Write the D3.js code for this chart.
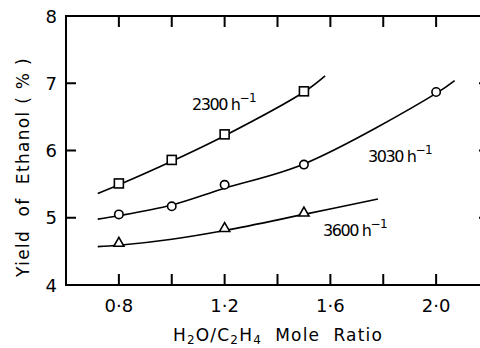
<!DOCTYPE html>
<html>
<head>
<meta charset="utf-8">
<script src="https://cdn.jsdelivr.net/npm/d3@7"></script>
<style>
  body { margin: 0; background: #fff; }
  text { font-family: "DejaVu Sans", sans-serif; fill: #000; }
</style>
</head>
<body>
<svg width="480" height="348"></svg>
<script>
// measured points (H2O/C2H4 ratio, yield %)
const ratioSq = [0.8, 1.0, 1.2, 1.5];
const yieldSq = [5.51, 5.86, 6.24, 6.88];
const ratioCi = [0.8, 1.0, 1.2, 1.5, 2.0];
const yieldCi = [5.05, 5.17, 5.49, 5.79, 6.87];
const ratioTr = [0.8, 1.2, 1.5];
const yieldTr = [4.62, 4.84, 5.07];

// hand-drawn fit curves
const curveSqX = [0.72, 0.8, 1.0, 1.2, 1.5, 1.58];
const curveSqY = [5.36, 5.49, 5.84, 6.22, 6.87, 7.11];
const curveCiX = [0.72, 0.8, 1.0, 1.2, 1.5, 2.0, 2.07];
const curveCiY = [4.98, 5.03, 5.19, 5.44, 5.80, 6.85, 7.04];
const curveTrX = [0.72, 0.8, 1.0, 1.2, 1.5, 1.78];
const curveTrY = [4.57, 4.59, 4.68, 4.81, 5.05, 5.28];

const xTicks = [0.8, 1.0, 1.2, 1.4, 1.6, 1.8, 2.0];
const xLabels = [0.8, 1.2, 1.6, 2.0];
const yTicks = [4, 5, 6, 7, 8];

const svg = d3.select("svg");
const x = d3.scaleLinear().domain([0.6, 2.2]).range([66, 489]);
const y = d3.scaleLinear().domain([4, 8]).range([285, 16]);

const fmt = d => d.toFixed(1).replace(".", "\u00b7");

// frame with inward ticks
const frame = svg.append("g").attr("stroke", "#000").attr("stroke-width", 2).attr("fill", "none");
frame.append("rect")
  .attr("x", x(0.6)).attr("y", y(8))
  .attr("width", x(2.2) - x(0.6)).attr("height", y(4) - y(8));

xTicks.forEach(t => {
  frame.append("line").attr("x1", x(t)).attr("x2", x(t)).attr("y1", y(4)).attr("y2", y(4) - 11);
  frame.append("line").attr("x1", x(t)).attr("x2", x(t)).attr("y1", y(8)).attr("y2", y(8) + 11);
});
yTicks.slice(1, -1).forEach(t => {
  frame.append("line").attr("x1", x(0.6)).attr("x2", x(0.6) + 10).attr("y1", y(t)).attr("y2", y(t));
  frame.append("line").attr("x1", x(2.2)).attr("x2", x(2.2) - 10).attr("y1", y(t)).attr("y2", y(t));
});

svg.selectAll(".xl").data(xLabels).enter().append("text")
  .attr("x", d => x(d)).attr("y", 312)
  .attr("text-anchor", "middle").attr("font-size", 18)
  .text(fmt);

svg.selectAll(".yl").data(yTicks).enter().append("text")
  .attr("x", 57).attr("y", d => y(d) + 6.5)
  .attr("text-anchor", "end").attr("font-size", 18)
  .text(d => d);

// axis titles
const xt = svg.append("text").attr("x", 278).attr("y", 341)
  .attr("text-anchor", "middle").attr("font-size", 17).attr("letter-spacing", 1.2)
  .attr("xml:space", "preserve");
xt.append("tspan").text("H");
xt.append("tspan").attr("font-size", 12).attr("dy", 3).text("2");
xt.append("tspan").attr("dy", -3).text("O/C");
xt.append("tspan").attr("font-size", 12).attr("dy", 3).text("2");
xt.append("tspan").attr("dy", -3).text("H");
xt.append("tspan").attr("font-size", 12).attr("dy", 3).text("4");
xt.append("tspan").attr("dy", -3).text("  Mole  Ratio");

svg.append("text")
  .attr("transform", "translate(29,167) rotate(-90)")
  .attr("text-anchor", "middle").attr("font-size", 17).attr("letter-spacing", 1.3)
  .attr("xml:space", "preserve")
  .text("Yield  of  Ethanol ( % )");

// curves
const line = d3.line().x(d => x(d[0])).y(d => y(d[1])).curve(d3.curveCatmullRom);
[[curveSqX, curveSqY], [curveCiX, curveCiY], [curveTrX, curveTrY]].forEach(([cx, cy]) => {
  svg.append("path")
    .datum(cx.map((v, i) => [v, cy[i]]))
    .attr("d", line)
    .attr("fill", "none").attr("stroke", "#000").attr("stroke-width", 1.6);
});

// markers
const mk = svg.append("g").attr("fill", "#fff").attr("stroke", "#000").attr("stroke-width", 1.6);
ratioSq.forEach((r, i) => {
  mk.append("rect").attr("x", x(r) - 4.5).attr("y", y(yieldSq[i]) - 4.5).attr("width", 9).attr("height", 9);
});
ratioCi.forEach((r, i) => {
  mk.append("circle").attr("cx", x(r)).attr("cy", y(yieldCi[i])).attr("r", 4.2);
});
const tri = d3.symbol().type(d3.symbolTriangle).size(45);
ratioTr.forEach((r, i) => {
  mk.append("path").attr("d", tri).attr("transform", `translate(${x(r)},${y(yieldTr[i])})`);
});

// curve labels
function label(tx, ty, val) {
  const t = svg.append("text").attr("x", tx).attr("y", ty).attr("font-size", 16).attr("letter-spacing", -1.4);
  t.append("tspan").text(val + " h");
  t.append("tspan").attr("font-size", 12).attr("dy", -8).attr("letter-spacing", -0.5).text("\u22121");
}
label(192, 110, "2300");
label(368, 162, "3030");
label(323, 236, "3600");
</script>
</body>
</html>
